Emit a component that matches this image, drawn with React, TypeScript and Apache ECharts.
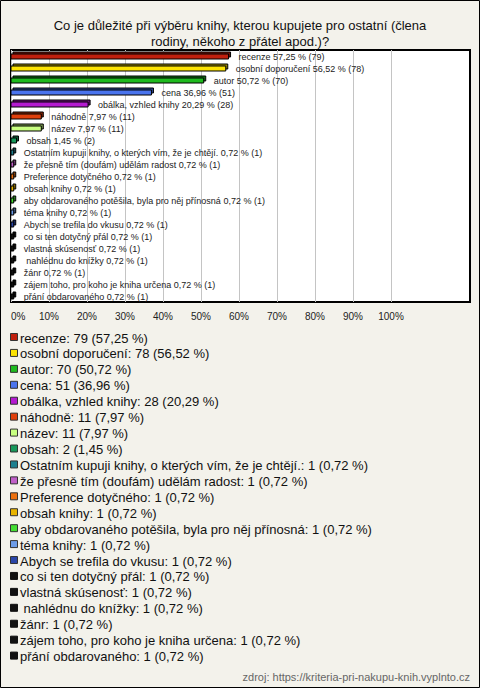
import React, { useEffect, useRef } from "react";
import * as echarts from "echarts";

const titleText =
  "Co je důležité při výběru knihy, kterou kupujete pro ostatní (člena\nrodiny, někoho z přátel apod.)?";
const sourceText = "zdroj: https://kriteria-pri-nakupu-knih.vyplnto.cz";

const categories = [
  "recenze",
  "osobní doporučení",
  "autor",
  "cena",
  "obálka, vzhled knihy",
  "náhodně",
  "název",
  "obsah",
  "Ostatním kupuji knihy, o kterých vím, že je chtějí.",
  "že přesně tím (doufám) udělám radost",
  "Preference dotyčného",
  "obsah knihy",
  "aby obdarovaného potěšila, byla pro něj přínosná",
  "téma knihy",
  "Abych se trefila do vkusu",
  "co si ten dotyčný přál",
  "vlastná skúsenosť",
  " nahlédnu do knížky",
  "žánr",
  "zájem toho, pro koho je kniha určena",
  "přání obdarovaného",
];

const counts = [79, 78, 70, 51, 28, 11, 11, 2, 1, 1, 1, 1, 1, 1, 1, 1, 1, 1, 1, 1, 1];

const percents = [
  57.25, 56.52, 50.72, 36.96, 20.29, 7.97, 7.97, 1.45, 0.72, 0.72, 0.72, 0.72, 0.72,
  0.72, 0.72, 0.72, 0.72, 0.72, 0.72, 0.72, 0.72,
];

const palette = [
  "#c0200e",
  "#fce303",
  "#1fba1f",
  "#4a74ee",
  "#b41ad0",
  "#e0400c",
  "#c8ff80",
  "#17985a",
  "#1e8090",
  "#c05fc8",
  "#ec7010",
  "#e8b400",
  "#44dd33",
  "#6c9ce8",
  "#2a46a8",
  "#111111",
  "#111111",
  "#111111",
  "#111111",
  "#111111",
  "#111111",
];

const FONT = '"Liberation Sans", Arial, sans-serif';

function shade(hex: string, f: number): string {
  const n = parseInt(hex.slice(1), 16);
  const r = Math.round(((n >> 16) & 255) * f);
  const g = Math.round(((n >> 8) & 255) * f);
  const b = Math.round((n & 255) * f);
  return "rgb(" + r + "," + g + "," + b + ")";
}

function fmt(p: number): string {
  return p.toFixed(2).replace(".", ",");
}

export default function App() {
  const ref = useRef<HTMLDivElement>(null);

  useEffect(() => {
    document.body.style.margin = "0";
    if (!ref.current) return;
    const chart = echarts.init(ref.current, undefined, { renderer: "svg" });

    const legendElements: any[] = [];
    categories.forEach((name, i) => {
      const cy = 338 + i * 15.93;
      const black = palette[i] === "#111111";
      legendElements.push({
        type: "rect",
        shape: { x: 10.5, y: cy - 4.5, width: 7, height: 7 },
        style: { fill: palette[i], stroke: black ? "#111" : "#333", lineWidth: 1 },
      });
      legendElements.push({
        type: "text",
        x: 20,
        y: cy,
        style: {
          text: name + ": " + counts[i] + " (" + fmt(percents[i]) + " %)",
          fill: "#111",
          font: "13px " + FONT,
          verticalAlign: "middle",
          textVerticalAlign: "middle",
          align: "left",
        },
      });
    });

    const option: any = {
      animation: false,
      backgroundColor: "#f3f2eb",
      title: {
        text: titleText,
        left: "center",
        top: 12,
        textStyle: {
          fontFamily: FONT,
          fontSize: 13,
          fontWeight: "normal",
          color: "#111",
          lineHeight: 16,
        },
      },
      grid: { left: 11, top: 50, width: 380, height: 252, containLabel: false },
      xAxis: {
        type: "value",
        min: 0,
        max: 100,
        interval: 10,
        axisLine: { show: false },
        axisTick: { show: false },
        splitLine: { show: true, lineStyle: { color: "#c4c4c4", width: 1 } },
        axisLabel: {
          formatter: "{value}%",
          color: "#222",
          fontSize: 10,
          fontFamily: FONT,
          margin: 9,
          alignMinLabel: "left",
        },
      },
      yAxis: {
        type: "category",
        inverse: true,
        data: categories,
        axisLine: { show: false },
        axisTick: { show: false },
        axisLabel: { show: false },
        splitLine: { show: false },
      },
      graphic: [
        {
          type: "rect",
          z: -10,
          silent: true,
          shape: { x: 11, y: 50, width: 459, height: 252 },
          style: { fill: "#ffffff", stroke: "#000", lineWidth: 2 },
        },
        {
          type: "rect",
          z: 100,
          silent: true,
          shape: { x: 0.5, y: 0.5, width: 479, height: 687 },
          style: { fill: "none", stroke: "#000", lineWidth: 1 },
        },
        ...legendElements,
        {
          type: "text",
          x: 470,
          y: 677,
          style: {
            text: sourceText,
            fill: "#666",
            font: "11px " + FONT,
            align: "right",
            textAlign: "right",
            verticalAlign: "middle",
            textVerticalAlign: "middle",
          },
        },
      ],
      series: [
        {
          type: "custom",
          encode: { x: 0, y: 1 },
          data: percents.map((p, i) => [p, i]),
          renderItem: (params: any, api: any) => {
            const v = api.value(0) as number;
            const i = api.value(1) as number;
            const p0 = api.coord([0, i]);
            const p1 = api.coord([v, i]);
            const cy = p0[1];
            const w = p1[0] - p0[0];
            const h = 5;
            const y0 = cy - 2;
            const d = 2;
            const color = palette[i];
            return {
              type: "group",
              children: [
                {
                  type: "rect",
                  shape: { x: p0[0] + d, y: y0 - d, width: w, height: h },
                  style: { fill: shade(color, 0.6), stroke: "#000", lineWidth: 1 },
                },
                {
                  type: "rect",
                  shape: { x: p0[0], y: y0, width: w, height: h },
                  style: { fill: color, stroke: "#000", lineWidth: 1 },
                },
                {
                  type: "text",
                  x: p1[0] + 10,
                  y: cy + 0.5,
                  style: {
                    text: categories[i] + " " + fmt(percents[i]) + " % (" + counts[i] + ")",
                    fill: "#222",
                    font: "9px " + FONT,
                    align: "left",
                    textAlign: "left",
                    verticalAlign: "middle",
                    textVerticalAlign: "middle",
                  },
                },
              ],
            };
          },
        },
      ],
    };

    chart.setOption(option);
    return () => chart.dispose();
  }, []);

  return <div ref={ref} style={{ width: 480, height: 688 }} />;
}
